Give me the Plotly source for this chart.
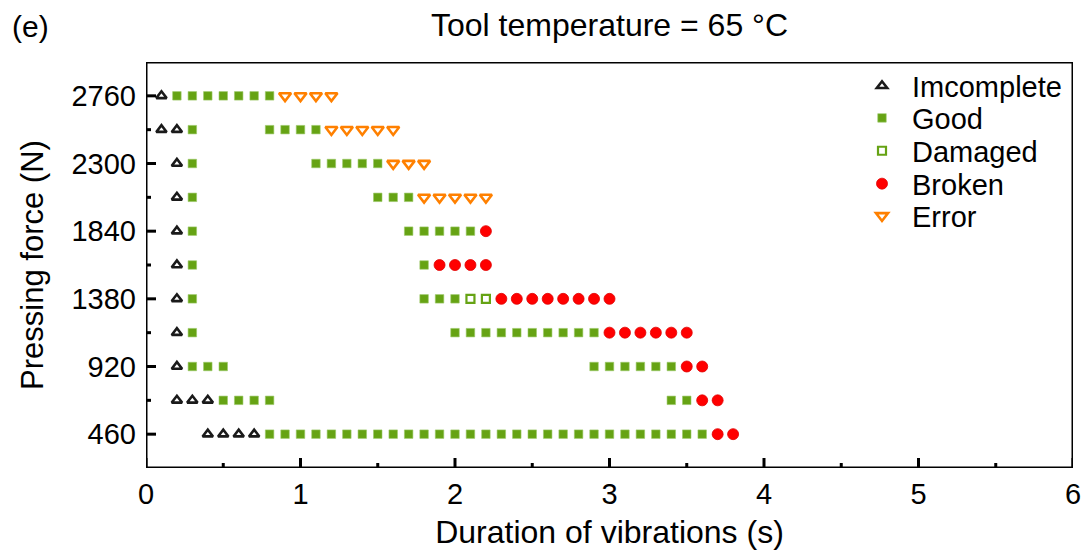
import plotly.graph_objects as go

# ---- data ----
forces = [2760, 2530, 2300, 2070, 1840, 1610, 1380, 1150, 920, 690, 460]

incomplete = [
    [0.1],
    [0.1, 0.2],
    [0.2],
    [0.2],
    [0.2],
    [0.2],
    [0.2],
    [0.2],
    [0.2],
    [0.2, 0.3, 0.4],
    [0.4, 0.5, 0.6, 0.7],
]
good = [
    [0.2, 0.3, 0.4, 0.5, 0.6, 0.7, 0.8],
    [0.3, 0.8, 0.9, 1.0, 1.1],
    [0.3, 1.1, 1.2, 1.3, 1.4, 1.5],
    [0.3, 1.5, 1.6, 1.7],
    [0.3, 1.7, 1.8, 1.9, 2.0, 2.1],
    [0.3, 1.8],
    [0.3, 1.8, 1.9, 2.0],
    [0.3, 2.0, 2.1, 2.2, 2.3, 2.4, 2.5, 2.6, 2.7, 2.8, 2.9],
    [0.3, 0.4, 0.5, 2.9, 3.0, 3.1, 3.2, 3.3, 3.4],
    [0.5, 0.6, 0.7, 0.8, 3.4, 3.5],
    [0.8, 0.9, 1.0, 1.1, 1.2, 1.3, 1.4, 1.5, 1.6, 1.7, 1.8, 1.9, 2.0, 2.1, 2.2,
     2.3, 2.4, 2.5, 2.6, 2.7, 2.8, 2.9, 3.0, 3.1, 3.2, 3.3, 3.4, 3.5, 3.6],
]
damaged = [[], [], [], [], [], [], [2.1, 2.2], [], [], [], []]
broken = [
    [],
    [],
    [],
    [],
    [2.2],
    [1.9, 2.0, 2.1, 2.2],
    [2.3, 2.4, 2.5, 2.6, 2.7, 2.8, 2.9, 3.0],
    [3.0, 3.1, 3.2, 3.3, 3.4, 3.5],
    [3.5, 3.6],
    [3.6, 3.7],
    [3.7, 3.8],
]
error = [
    [0.9, 1.0, 1.1, 1.2],
    [1.2, 1.3, 1.4, 1.5, 1.6],
    [1.6, 1.7, 1.8],
    [1.8, 1.9, 2.0, 2.1, 2.2],
    [], [], [], [], [], [], [],
]

x_range = [0, 6]
y_range = [230, 2990]
x_ticks = [0, 1, 2, 3, 4, 5, 6]
x_minor = [0.5, 1.5, 2.5, 3.5, 4.5, 5.5]
y_ticks = [460, 920, 1380, 1840, 2300, 2760]
y_minor = [690, 1150, 1610, 2070, 2530]


def flatten(rows):
    xs, ys = [], []
    for f, row in zip(forces, rows):
        for t in row:
            xs.append(t)
            ys.append(f)
    return xs, ys


FONT = "Arial, Liberation Sans, sans-serif"
GREEN = "#66A314"
RED = "#FF0000"
ORANGE = "#FF8000"
BLACK = "#1a1a1a"

W, H = 1085, 559
M_L, M_R, M_T, M_B = 146, 12, 62, 91
PLOT_W = W - M_L - M_R
PLOT_H = H - M_T - M_B
px_x = (x_range[1] - x_range[0]) / PLOT_W   # data units per pixel
px_y = (y_range[1] - y_range[0]) / PLOT_H

# legend entry centres (paper fraction of plot height)
legend_pos = [0.941, 0.862, 0.781, 0.700, 0.621]

fig = go.Figure()

series = [
    ("Imcomplete", incomplete, dict(symbol="triangle-up-open", size=9,
                                    color=BLACK, line=dict(width=2.6, color=BLACK))),
    ("Good", good, dict(symbol="square", size=8.5, color=GREEN,
                        line=dict(width=0.6, color="#9cc96a"))),
    ("Damaged", damaged, dict(symbol="square-open", size=8, color=GREEN,
                              line=dict(width=2.2, color=GREEN))),
    ("Broken", broken, dict(symbol="circle", size=11, color=RED,
                            line=dict(width=0.8, color="#e00000"))),
    ("Error", error, dict(symbol="triangle-down-open", size=10.5, color=ORANGE,
                          line=dict(width=2.6, color=ORANGE))),
]

for i, (name, rows, marker) in enumerate(series):
    x, y = flatten(rows)
    lg = "legend" if i == 0 else f"legend{i + 1}"
    fig.add_trace(go.Scatter(x=x, y=y, mode="markers", name=name,
                             marker=marker, legend=lg))

# ---- axis frame and inward ticks, drawn as line traces ----
frame_x = [x_range[0], x_range[1], x_range[1], x_range[0], x_range[0]]
frame_y = [y_range[0], y_range[0], y_range[1], y_range[1], y_range[0]]
fig.add_trace(go.Scatter(x=frame_x, y=frame_y, mode="lines", showlegend=False,
                         hoverinfo="skip", cliponaxis=False,
                         line=dict(color="black", width=3)))

tx, ty = [], []
for v, ln in [(t, 10) for t in x_ticks] + [(t, 5) for t in x_minor]:
    tx += [v, v, None]
    ty += [y_range[0], y_range[0] + ln * px_y, None]
for v, ln in [(t, 10) for t in y_ticks] + [(t, 5) for t in y_minor]:
    tx += [x_range[0], x_range[0] + ln * px_x, None]
    ty += [v, v, None]
fig.add_trace(go.Scatter(x=tx, y=ty, mode="lines", showlegend=False,
                         hoverinfo="skip", cliponaxis=False,
                         line=dict(color="black", width=3)))

axis_common = dict(
    showline=False, ticks="", showgrid=False, zeroline=False, automargin=False,
    tickfont=dict(family=FONT, size=29, color="black"),
)

fig.update_xaxes(
    range=x_range, tickvals=x_ticks, ticktext=[str(v) for v in x_ticks],
    ticklabelstandoff=6,
    title=dict(text="Duration of vibrations (s)",
               font=dict(family=FONT, size=32, color="black"), standoff=11),
    **axis_common,
)
fig.update_yaxes(
    range=y_range, tickvals=y_ticks, ticktext=[str(v) for v in y_ticks],
    ticklabelstandoff=9,
    title=dict(text="Pressing force (N)",
               font=dict(family=FONT, size=31, color="black"), standoff=18),
    **axis_common,
)

legend_common = dict(x=0.7616, xanchor="left", yanchor="middle",
                     font=dict(family=FONT, size=29, color="black"),
                     bgcolor="rgba(0,0,0,0)", borderwidth=0, itemwidth=50)

layout_legends = {}
for i, yp in enumerate(legend_pos):
    key = "legend" if i == 0 else f"legend{i + 1}"
    layout_legends[key] = dict(y=yp, **legend_common)

fig.update_layout(
    width=W, height=H,
    margin=dict(l=M_L, r=M_R, t=M_T, b=M_B, autoexpand=False),
    paper_bgcolor="white", plot_bgcolor="white",
    title=dict(text="Tool temperature = 65 °C", x=0.5, xref="paper",
               y=0.955, yref="container", yanchor="middle",
               font=dict(family=FONT, size=32, color="black")),
    showlegend=True,
    **layout_legends,
)
fig.add_annotation(text="(e)", xref="paper", yref="paper",
                   x=-0.147, y=1.088, xanchor="left", yanchor="middle",
                   showarrow=False, font=dict(family=FONT, size=30, color="black"))

fig.write_html("out.html")
